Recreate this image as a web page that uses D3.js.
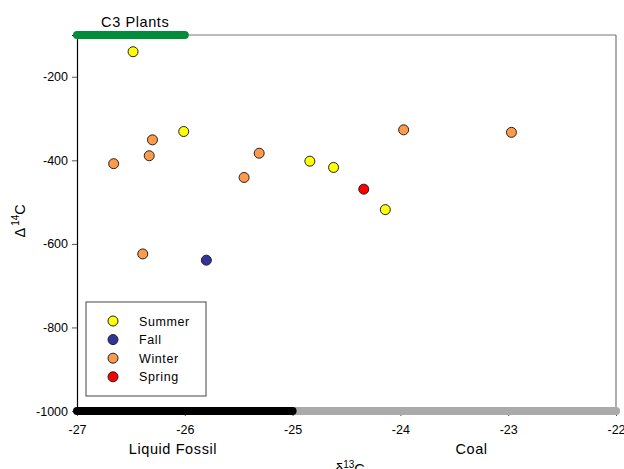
<!DOCTYPE html>
<html><head><meta charset="utf-8">
<script src="https://cdn.jsdelivr.net/npm/d3@7/dist/d3.min.js"></script>
<style>body{margin:0;background:#fff}svg{display:block;font-family:Arial,"Liberation Sans",sans-serif}</style>
</head><body>
<script>
const seasons = ["Summer","Fall","Winter","Spring"];
const seasonColors = ["#FFFF00","#333399","#FF9A4A","#FF0000"];
const d13C = [-26.48,-26.01,-24.84,-24.62,-24.14, -25.80, -26.66,-26.33,-26.30,-26.39,-25.45,-25.31,-23.97,-22.97, -24.34];
const D14C = [-140,-331,-402,-417,-518, -639, -408,-389,-351,-624,-441,-383,-327,-333, -469];
const seasonOf = ["Summer","Summer","Summer","Summer","Summer","Fall","Winter","Winter","Winter","Winter","Winter","Winter","Winter","Winter","Spring"];
const xTicks = [-27,-26,-25,-24,-23,-22];
const yTicks = [-1000,-800,-600,-400,-200];
const ranges = [
  {name:"C3 Plants", from:-27, to:-26, at:"top", color:"#008C3A", label:-26.46},
  {name:"Coal", from:-25, to:-22, at:"bottom", color:"#AAAAAB", label:-23.34},
  {name:"Liquid Fossil", from:-27, to:-25, at:"bottom", color:"#000000", label:-26.11}
];

const W=624,H=469, m={l:77,r:8,t:35,b:58};
const svg=d3.select("body").append("svg").attr("width",W).attr("height",H);
const x=d3.scaleLinear().domain([-27,-22]).range([m.l,W-m.r]);
const y=d3.scaleLinear().domain([-1000,-100]).range([H-m.b,m.t]);
const color=d3.scaleOrdinal().domain(seasons).range(seasonColors);

// frame
svg.append("line").attr("x1",x(-27)).attr("x2",x(-22)).attr("y1",y(-100)).attr("y2",y(-100)).attr("stroke","#777").attr("stroke-width",1.2);
svg.append("line").attr("x1",x(-22)).attr("x2",x(-22)).attr("y1",y(-100)).attr("y2",y(-1000)).attr("stroke","#777").attr("stroke-width",1.2);

const xa=svg.append("g").attr("transform",`translate(0,${y(-1000)})`)
  .call(d3.axisBottom(x).tickValues(xTicks).tickFormat(d=>String(d)).tickSize(5).tickPadding(9));
const ya=svg.append("g").attr("transform",`translate(${x(-27)},0)`)
  .call(d3.axisLeft(y).tickValues(yTicks).tickFormat(d=>String(d)).tickSize(5).tickPadding(4));
[xa,ya].forEach(g=>{g.selectAll("text").attr("font-size",12.5).attr("fill","#000").attr("font-family","Arial,'Liberation Sans',sans-serif");
  g.selectAll("line").attr("stroke","#555");});
xa.select(".domain").remove();
ya.select(".domain").attr("stroke","#000").attr("stroke-width",1.2);

// range bars and labels
ranges.forEach(r=>{
  const yy = r.at==="top"? y(-100): y(-1000);
  svg.append("line").attr("x1",x(r.from)).attr("x2",x(r.to)).attr("y1",yy).attr("y2",yy)
    .attr("stroke",r.color).attr("stroke-width",8).attr("stroke-linecap","round");
  svg.append("text").attr("x",x(r.label)).attr("y",r.at==="top"?27:454).attr("text-anchor","middle")
    .attr("font-size",14.5).attr("letter-spacing",0.6).text(r.name);
});

// axis titles
const xt=svg.append("text").attr("x",350).attr("y",474).attr("text-anchor","middle").attr("font-size",14.5);
xt.append("tspan").text("δ");
xt.append("tspan").attr("dy",-6).attr("font-size",10).text("13");
xt.append("tspan").attr("dy",6).text("C");
const yt=svg.append("text").attr("transform",`translate(25,${y(-545)}) rotate(-90)`).attr("text-anchor","middle").attr("font-size",14.5);
yt.append("tspan").text("Δ");
yt.append("tspan").attr("dy",-6).attr("dx",2).attr("font-size",10).text("14");
yt.append("tspan").attr("dy",6).text("C");

// points
svg.append("g").selectAll("circle").data(d13C.map((v,i)=>({x:v,y:D14C[i],s:seasonOf[i]}))).join("circle")
  .attr("cx",d=>x(d.x)).attr("cy",d=>y(d.y)).attr("r",5)
  .attr("fill",d=>color(d.s)).attr("stroke","#222").attr("stroke-width",1);

// legend
const lg=svg.append("g");
lg.append("rect").attr("x",86).attr("y",302).attr("width",120).attr("height",94).attr("fill","#fff").attr("stroke","#444").attr("stroke-width",1);
seasons.forEach((s,i)=>{
  const yy=321+i*18.6;
  lg.append("circle").attr("cx",113).attr("cy",yy).attr("r",5).attr("fill",color(s)).attr("stroke","#222");
  lg.append("text").attr("x",139).attr("y",yy+4.5).attr("font-size",12.5).attr("letter-spacing",0.6).text(s);
});
</script>
</body></html>
